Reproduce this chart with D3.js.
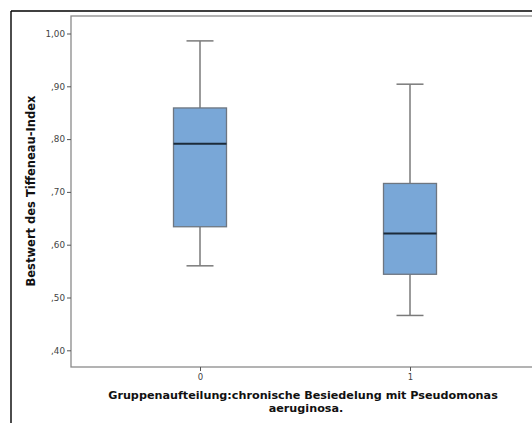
<!DOCTYPE html>
<html>
<head>
<meta charset="utf-8">
<script src="https://cdn.jsdelivr.net/npm/d3@7"></script>
<style>
  html, body { margin: 0; padding: 0; background: #fff; }
  svg { display: block; }
</style>
</head>
<body>
<svg id="chart" width="532" height="423"></svg>
<script>
// Tiffeneau-Index by group: box plot summaries
const groups = ["0", "1"];
const whiskerLow = [0.560, 0.466];
const q1 = [0.634, 0.544];
const median = [0.791, 0.621];
const q3 = [0.859, 0.716];
const whiskerHigh = [0.986, 0.904];
const yTicks = [0.40, 0.50, 0.60, 0.70, 0.80, 0.90, 1.00];

const svg = d3.select("#chart");
const W = 532, H = 423;
const plot = { left: 71, top: 16, right: 540, bottom: 367 };
const font = "'DejaVu Sans', Verdana, sans-serif";

// outer frame (top and left edges)
svg.append("line").attr("x1", 11).attr("x2", W).attr("y1", 11).attr("y2", 11)
  .attr("stroke", "#000").attr("stroke-width", 1.6);
svg.append("line").attr("x1", 11).attr("x2", 11).attr("y1", 11).attr("y2", H)
  .attr("stroke", "#000").attr("stroke-width", 1.4);

const y = d3.scaleLinear().domain([0.4, 1.0]).range([350.3, 33.5]);
const x = d3.scalePoint().domain(groups).range([200, 410]);

// plot area border
svg.append("rect")
  .attr("x", plot.left).attr("y", plot.top)
  .attr("width", plot.right - plot.left).attr("height", plot.bottom - plot.top)
  .attr("fill", "#fff").attr("stroke", "#8a8a8a").attr("stroke-width", 1.3);

// y axis
const yAxis = d3.axisLeft(y).tickValues(yTicks).tickSize(4).tickPadding(2)
  .tickFormat(d => d3.format(".2f")(d).replace(/^0/, "").replace(".", ","));
const gy = svg.append("g").attr("transform", `translate(${plot.left},0)`).call(yAxis);
gy.select(".domain").remove();
gy.selectAll(".tick line").attr("stroke", "#555").attr("stroke-width", 1);
gy.selectAll(".tick text").attr("fill", "#444")
  .style("font-family", font).style("font-size", "8.8px");

// x axis
const xAxis = d3.axisBottom(x).tickSize(4).tickPadding(3);
const gx = svg.append("g").attr("transform", `translate(0,${plot.bottom})`).call(xAxis);
gx.select(".domain").remove();
gx.selectAll(".tick line").attr("stroke", "#555").attr("stroke-width", 1);
gx.selectAll(".tick text").attr("fill", "#444")
  .style("font-family", font).style("font-size", "8.5px");

// boxes
const boxW = 53, capW = 27;
const data = groups.map((g, i) => ({
  g, lo: whiskerLow[i], q1: q1[i], med: median[i], q3: q3[i], hi: whiskerHigh[i]
}));
const gb = svg.append("g");
data.forEach(d => {
  const cx = x(d.g);
  const b = gb.append("g");
  b.append("line").attr("x1", cx).attr("x2", cx).attr("y1", y(d.hi)).attr("y2", y(d.q3))
    .attr("stroke", "#7a7a7a").attr("stroke-width", 1.5);
  b.append("line").attr("x1", cx).attr("x2", cx).attr("y1", y(d.q1)).attr("y2", y(d.lo))
    .attr("stroke", "#7a7a7a").attr("stroke-width", 1.5);
  b.append("line").attr("x1", cx - capW / 2).attr("x2", cx + capW / 2).attr("y1", y(d.hi)).attr("y2", y(d.hi))
    .attr("stroke", "#7a7a7a").attr("stroke-width", 1.5);
  b.append("line").attr("x1", cx - capW / 2).attr("x2", cx + capW / 2).attr("y1", y(d.lo)).attr("y2", y(d.lo))
    .attr("stroke", "#7a7a7a").attr("stroke-width", 1.5);
  b.append("rect").attr("x", cx - boxW / 2).attr("y", y(d.q3))
    .attr("width", boxW).attr("height", y(d.q1) - y(d.q3))
    .attr("fill", "#79a7d7").attr("stroke", "#6e7680").attr("stroke-width", 1.3);
  b.append("line").attr("x1", cx - boxW / 2).attr("x2", cx + boxW / 2).attr("y1", y(d.med)).attr("y2", y(d.med))
    .attr("stroke", "#1c2b3a").attr("stroke-width", 2);
});

// axis titles
svg.append("text")
  .attr("transform", "translate(35,191) rotate(-90)")
  .attr("text-anchor", "middle")
  .style("font-family", font).style("font-size", "11.5px").style("font-weight", "bold")
  .attr("fill", "#111")
  .text("Bestwert des Tiffeneau-Index");

const titleStyle = sel => sel.attr("text-anchor", "middle")
  .style("font-family", font).style("font-size", "11.2px").style("font-weight", "bold")
  .attr("fill", "#111");
svg.append("text").call(titleStyle).attr("x", 303).attr("y", 398.5)
  .text("Gruppenaufteilung:chronische Besiedelung mit Pseudomonas");
svg.append("text").call(titleStyle).attr("x", 306).attr("y", 411.5)
  .text("aeruginosa.");
</script>
</body>
</html>
